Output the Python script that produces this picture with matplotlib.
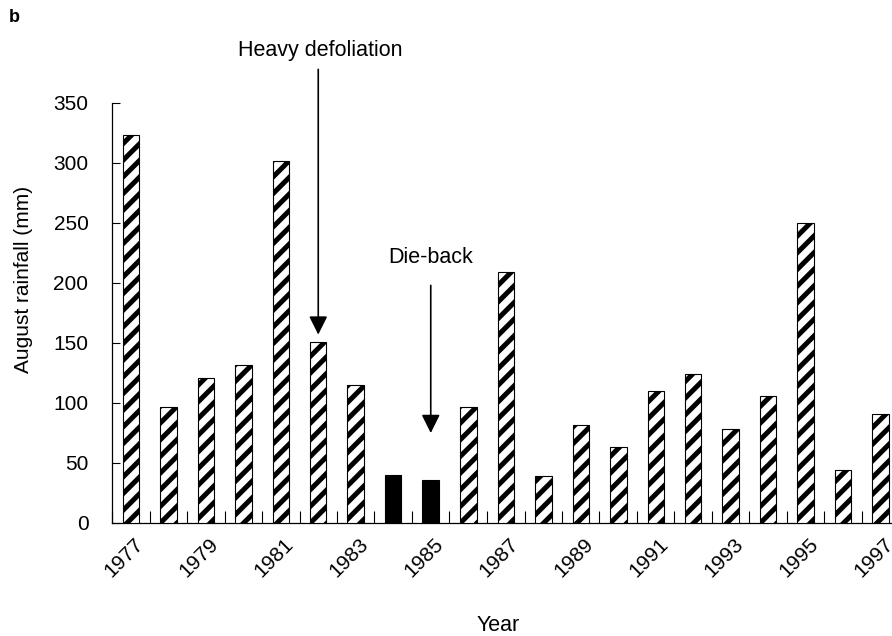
import matplotlib
matplotlib.use("Agg")
import matplotlib.pyplot as plt
import matplotlib.transforms as mtransforms
import numpy as np

# data
years = list(range(1977, 1998))
rain = [323, 97, 121, 132, 302, 151, 115, 40, 36, 97, 209,
        39, 82, 63, 110, 124, 78, 106, 250, 44, 91]
dieback_years = [1984, 1985]
yticks = [0, 50, 100, 150, 200, 250, 300, 350]

plt.rcParams['font.family'] = ['Liberation Sans', 'DejaVu Sans']
plt.rcParams['hatch.linewidth'] = 3.6
plt.rcParams['hatch.color'] = 'black'

fig = plt.figure(figsize=(8.92, 6.36), dpi=100)
ax = fig.add_axes([112 / 892, 113 / 636, 787.5 / 892, 420 / 636])

x = np.arange(len(years))
for xi, yr, v in zip(x, years, rain):
    solid = yr in dieback_years
    ax.bar(xi, v, width=0.44, facecolor='black' if solid else 'white',
           edgecolor='black', linewidth=0.8, hatch=None if solid else '//',
           zorder=3)

ax.set_xlim(-0.5, len(years) - 0.5)
ax.set_ylim(0, 350)
ax.set_yticks(yticks)
ax.tick_params(axis='y', direction='in', length=6, width=0.8, labelsize=15, pad=17)

ax.set_xticks(x[::2])
ax.set_xticklabels([str(y) for y in years[::2]], rotation=45, fontsize=15)
ax.tick_params(axis='x', which='major', length=0, pad=8)
shift = mtransforms.ScaledTranslation(-7 / 100, 0, fig.dpi_scale_trans)
for lab in ax.get_xticklabels():
    lab.set_transform(lab.get_transform() + shift)
ax.set_xticks(np.arange(-0.5, len(years)), minor=True)
ax.tick_params(axis='x', which='minor', direction='in', length=9, width=0.8)

for s in ['top', 'right']:
    ax.spines[s].set_visible(False)
for s in ['left', 'bottom']:
    ax.spines[s].set_linewidth(0.9)

ax.set_ylabel('August rainfall (mm)', fontsize=15)
ax.yaxis.set_label_coords(-0.100, 0.581)
ax.set_xlabel('Year', fontsize=15.5)
ax.xaxis.set_label_coords(0.491, -0.219)

# annotations
i82 = years.index(1982)
ax.annotate('', xy=(i82, 157), xytext=(i82, 378), annotation_clip=False,
            arrowprops=dict(arrowstyle='-|>', mutation_scale=28, color='black',
                            lw=1.2, shrinkA=0, shrinkB=0))
ax.text(i82 + 0.05, 394, 'Heavy defoliation', ha='center', va='center', fontsize=15.5,
        clip_on=False)

i85 = years.index(1985)
ax.annotate('', xy=(i85, 75), xytext=(i85, 198), annotation_clip=False,
            arrowprops=dict(arrowstyle='-|>', mutation_scale=28, color='black',
                            lw=1.2, shrinkA=0, shrinkB=0))
ax.text(i85, 221, 'Die-back', ha='center', va='center', fontsize=15.5)

fig.text(14 / 892, 1 - 18 / 636, 'b', fontsize=13, fontweight='bold',
         ha='center', va='center')

fig.savefig('out.png', dpi=100)
